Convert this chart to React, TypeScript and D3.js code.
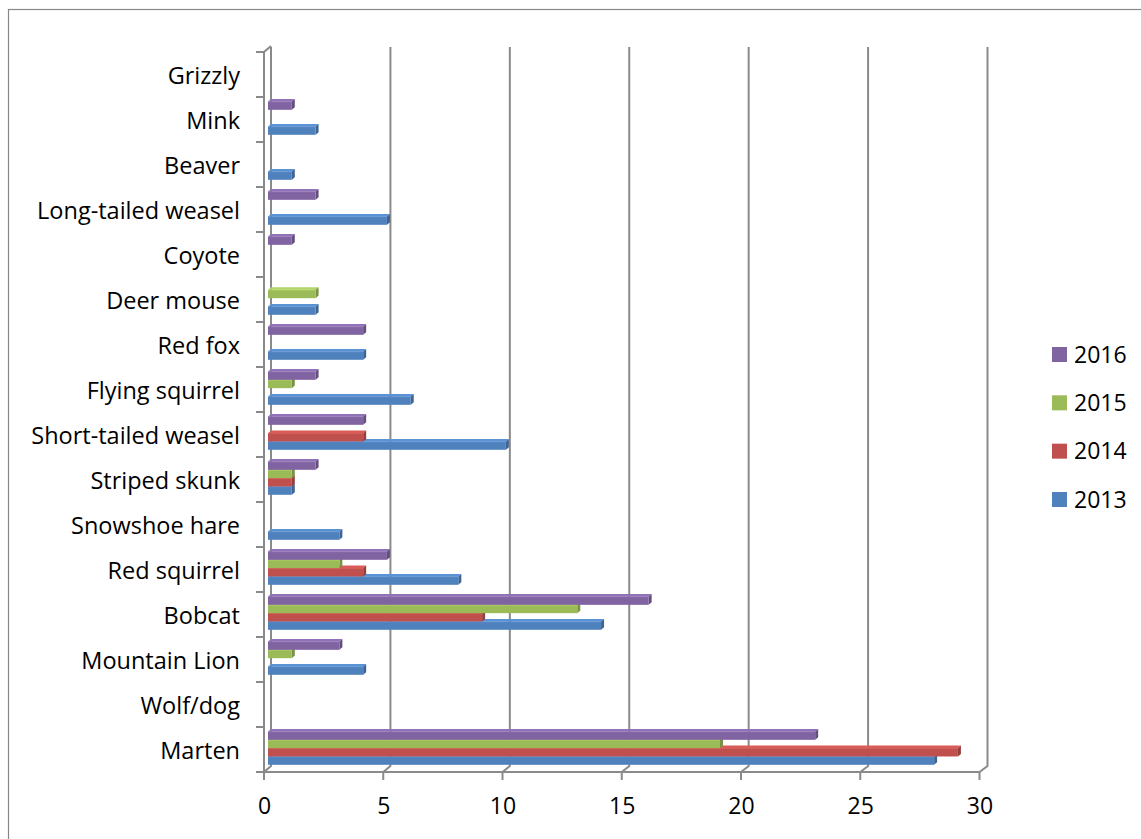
import React from "react";
import * as d3 from "d3";

// Species observed, listed bottom-to-top as on the vertical axis
const categories = [
  "Marten",
  "Wolf/dog",
  "Mountain Lion",
  "Bobcat",
  "Red squirrel",
  "Snowshoe hare",
  "Striped skunk",
  "Short-tailed weasel",
  "Flying squirrel",
  "Red fox",
  "Deer mouse",
  "Coyote",
  "Long-tailed weasel",
  "Beaver",
  "Mink",
  "Grizzly",
];

// Detections per year, same order as categories
const values2013 = [28, 0, 4, 14, 8, 3, 1, 10, 6, 4, 2, 0, 5, 1, 2, 0];
const values2014 = [29, 0, 0, 9, 4, 0, 1, 4, 0, 0, 0, 0, 0, 0, 0, 0];
const values2015 = [19, 0, 1, 13, 3, 0, 1, 0, 1, 0, 2, 0, 0, 0, 0, 0];
const values2016 = [23, 0, 3, 16, 5, 0, 2, 4, 2, 4, 0, 1, 2, 0, 1, 0];

const xTicks = [0, 5, 10, 15, 20, 25, 30];

const seriesNames = ["2013", "2014", "2015", "2016"];
const seriesValues = [values2013, values2014, values2015, values2016];
const seriesColors = ["#4F81BD", "#C0504D", "#9BBB59", "#8064A2"];

const FONT = "'Open Sans', Lato, sans-serif";
const AXIS_GRAY = "#8a8a8a";

export default function App() {
  const width = 1141;
  const height = 839;

  // plot geometry: front plane (axes), bar plane, back wall (gridlines)
  const top = 52;
  const bottom = 772;
  const depthDy = -6;

  const xFront = d3.scaleLinear().domain([0, 30]).range([264, 979.5]);
  const xBack = d3.scaleLinear().domain([0, 30]).range([271, 987.5]);
  const xBar = d3.scaleLinear().domain([0, 30]).range([268, 981.7]);

  const yBand = d3
    .scaleBand<string>()
    .domain([...categories].reverse())
    .range([top, bottom])
    .padding(0);

  const bw = yBand.bandwidth();
  // series stacked inside each category: 2016 on top, 2013 at the bottom
  const yInner = d3
    .scaleBand<string>()
    .domain(["2016", "2015", "2014", "2013"])
    .range([bw * 0.1, bw * 0.84])
    .padding(0);

  const barH = yInner.bandwidth();
  const bdx = 3;
  const bdy = -2.6;

  const bars: React.ReactNode[] = [];
  seriesNames.forEach((name, si) => {
    const color = seriesColors[si];
    const c = d3.color(color)!;
    const topFill = c.brighter(0.35).formatHex();
    const endFill = c.darker(0.7).formatHex();
    seriesValues[si].forEach((v, ci) => {
      if (v <= 0) return;
      const cat = categories[ci];
      const y0 = (yBand(cat) as number) + (yInner(name) as number);
      const x0 = xBar(0);
      const x1 = xBar(v);
      const y1 = y0 + barH;
      bars.push(
        <g key={`${name}-${cat}`}>
          <path
            d={`M${x0},${y0} L${x0 + bdx},${y0 + bdy} L${x1 + bdx},${y0 + bdy} L${x1},${y0} Z`}
            fill={topFill}
          />
          <path
            d={`M${x1},${y0} L${x1 + bdx},${y0 + bdy} L${x1 + bdx},${y1 + bdy} L${x1},${y1} Z`}
            fill={endFill}
          />
          <rect x={x0} y={y0} width={x1 - x0} height={barH} fill={color} />
          <line x1={x0} x2={x1} y1={y0 + 0.5} y2={y0 + 0.5} stroke={topFill} strokeWidth={1} opacity={0.6} />
        </g>
      );
    });
  });

  const boundaries = [...categories.map((c) => yBand(c) as number), bottom];

  const legendItems = [...seriesNames].reverse();
  const legendY = d3.scalePoint<string>().domain(legendItems).range([354.5, 499.5]);

  return (
    <svg
      width={width}
      height={height}
      style={{ position: "absolute", left: 0, top: 0, background: "#fff" }}
    >
      {/* chart area border */}
      <rect x={8.5} y={9.5} width={1140} height={840} fill="none" stroke="#878787" strokeWidth={1.2} />

      {/* back-wall gridlines with floor connectors and front ticks */}
      {xTicks.map((t) => (
        <g key={`g${t}`}>
          <path
            d={`M${xBack(t)},${top + depthDy + 1} L${xBack(t)},${bottom + depthDy} L${xFront(t)},${bottom}`}
            fill="none"
            stroke={AXIS_GRAY}
            strokeWidth={2}
          />
          <line x1={xFront(t)} x2={xFront(t)} y1={bottom} y2={bottom + 8} stroke={AXIS_GRAY} strokeWidth={2} />
        </g>
      ))}

      {/* vertical category axis */}
      <path
        d={`M${xFront(0)},${bottom} L${xFront(0)},${top} L${xBack(0)},${top + depthDy}`}
        fill="none"
        stroke={AXIS_GRAY}
        strokeWidth={2}
      />
      {boundaries.map((y, i) => (
        <line key={`t${i}`} x1={xFront(0) - 8} x2={xFront(0)} y1={y} y2={y} stroke={AXIS_GRAY} strokeWidth={2} />
      ))}

      {/* horizontal value axis */}
      <line x1={xFront(0)} x2={xFront(30)} y1={bottom} y2={bottom} stroke={AXIS_GRAY} strokeWidth={2} />

      {bars}

      {/* category labels */}
      {categories.map((c) => (
        <text
          key={`l${c}`}
          x={240}
          y={(yBand(c) as number) + bw / 2 + 9.5}
          textAnchor="end"
          fontFamily={FONT}
          fontSize={23.5}
          fill="#000"
        >
          {c}
        </text>
      ))}

      {/* value tick labels */}
      {xTicks.map((t) => (
        <text
          key={`x${t}`}
          x={xFront(t) + 0.5}
          y={814}
          textAnchor="middle"
          fontFamily={FONT}
          fontSize={23}
          fill="#000"
        >
          {t}
        </text>
      ))}

      {/* legend */}
      {legendItems.map((name) => {
        const si = seriesNames.indexOf(name);
        const cy = legendY(name) as number;
        return (
          <g key={`lg${name}`}>
            <rect x={1052} y={cy - 7.5} width={15} height={15} fill={seriesColors[si]} />
            <text x={1074} y={cy + 8} fontFamily={FONT} fontSize={23} fill="#000">
              {name}
            </text>
          </g>
        );
      })}
    </svg>
  );
}
